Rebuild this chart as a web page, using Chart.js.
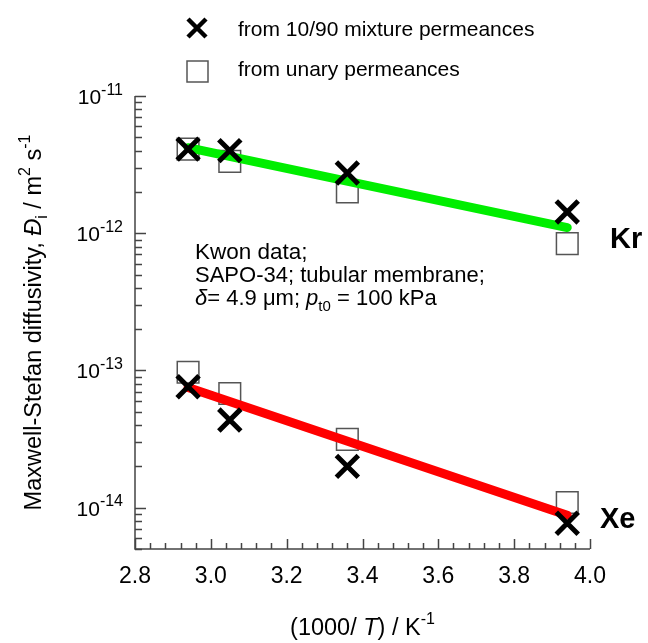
<!DOCTYPE html>
<html>
<head>
<meta charset="utf-8">
<script src="https://cdn.jsdelivr.net/npm/chart.js@4/dist/chart.umd.min.js"></script>
<style>
html, body { margin: 0; padding: 0; background: #fff; }
#wrap { width: 648px; height: 643px; }
</style>
</head>
<body>
<div id="wrap"><canvas id="diffChart" width="648" height="643"></canvas></div>
<script>
// 1000/T values of the four temperatures
const invT = [2.94, 3.05, 3.36, 3.94];
const krMixture = [4.1e-12, 4.0e-12, 2.75e-12, 1.43e-12];
const krUnary = [4.1e-12, 3.34e-12, 2.0e-12, 8.4e-13];
const xeMixture = [7.6e-14, 4.35e-14, 2.0e-14, 7.7e-15];
const xeUnary = [9.7e-14, 6.8e-14, 3.15e-14, 1.09e-14];
// fitted lines, end points only
const fitX = [2.94, 3.94];
const krFit = [4.2e-12, 1.1e-12];
const xeFit = [7.5e-14, 8.8e-15];
const xTickLabels = ['2.8', '3.0', '3.2', '3.4', '3.6', '3.8', '4.0'];
const yDecades = [-14, -13, -12, -11];

const FONT = '"Liberation Sans", Arial, sans-serif';
function font(size, italic, bold) {
    return (italic ? 'italic ' : '') + (bold ? 'bold ' : '') + size + 'px ' + FONT;
}

function pts(xs, ys) {
    return xs.map(function (x, i) { return { x: x, y: ys[i] }; });
}

// draws a run of text pieces with super/subscripts
function richText(ctx, parts, x, y, align, base) {
    base = base || 22;
    let total = 0;
    const runs = parts.map(function (p) {
        const size = (p.sup || p.sub) ? (p.small || Math.round(base * 0.68)) : (p.size || base);
        ctx.font = font(size, p.italic, p.bold);
        const w = ctx.measureText(p.t).width;
        total += w;
        return { p: p, size: size, w: w };
    });
    let cx = align === 'center' ? x - total / 2 : (align === 'right' ? x - total : x);
    runs.forEach(function (r) {
        ctx.font = font(r.size, r.p.italic, r.p.bold);
        const dy = r.p.sup ? -base * 0.45 : (r.p.sub ? base * 0.27 : 0);
        ctx.fillText(r.p.t, cx, y + dy);
        cx += r.w;
    });
}

const axesPlugin = {
    id: 'axesPlugin',
    afterDraw: function (chart) {
        const ctx = chart.ctx;
        const xs = chart.scales.x;
        const ys = chart.scales.y;
        const area = chart.chartArea;
        ctx.save();
        ctx.strokeStyle = '#444';
        ctx.lineWidth = 1.5;
        ctx.beginPath();
        ctx.moveTo(area.left, area.top);
        ctx.lineTo(area.left, area.bottom);
        ctx.lineTo(area.right, area.bottom);
        ctx.stroke();

        // y ticks, inward
        ctx.beginPath();
        for (let e = -15; e <= -11; e++) {
            for (let m = 1; m <= 9; m++) {
                const v = m * Math.pow(10, e);
                if (v < ys.min * 0.999 || v > ys.max * 1.001) continue;
                const py = Math.round(ys.getPixelForValue(v)) + 0.5;
                const len = m === 1 ? 11 : 7;
                ctx.moveTo(area.left, py);
                ctx.lineTo(area.left + len, py);
            }
        }
        // x ticks, inward
        for (let i = 0; i <= 30; i++) {
            const v = 2.8 + i * 0.04;
            const px = Math.round(xs.getPixelForValue(v)) + 0.5;
            const len = i % 5 === 0 ? 10 : 6;
            ctx.moveTo(px, area.bottom);
            ctx.lineTo(px, area.bottom - len);
        }
        ctx.stroke();

        ctx.fillStyle = '#000';
        ctx.textBaseline = 'alphabetic';
        ctx.textAlign = 'left';
        // x tick labels
        xTickLabels.forEach(function (lab) {
            const px = xs.getPixelForValue(parseFloat(lab));
            richText(ctx, [{ t: lab }], px, area.bottom + 34, 'center', 23);
        });
        // y tick labels
        yDecades.forEach(function (e) {
            const py = ys.getPixelForValue(Math.pow(10, e));
            richText(ctx, [{ t: '10' }, { t: String(e), sup: true, small: 16 }], area.left - 12, py + 8, 'right', 21);
        });

        // axis titles
        richText(ctx, [{ t: '(1000/ ' }, { t: 'T', italic: true }, { t: ') / K' }, { t: '-1', sup: true }],
            (area.left + area.right) / 2, 635, 'center', 23.5);
        ctx.save();
        ctx.translate(41, (area.top + area.bottom) / 2);
        ctx.rotate(-Math.PI / 2);
        richText(ctx, [
            { t: 'Maxwell-Stefan diffusivity, ' }, { t: '\u0110', italic: true }, { t: 'i', sub: true },
            { t: ' / m' }, { t: '2', sup: true }, { t: ' s' }, { t: '-1', sup: true }
        ], 0, 0, 'center', 23.5);
        ctx.restore();

        // annotation
        richText(ctx, [{ t: 'Kwon data;' }], 195, 259, 'left', 22.5);
        richText(ctx, [{ t: 'SAPO-34; tubular membrane;' }], 195, 282, 'left', 22);
        richText(ctx, [
            { t: '\u03B4', italic: true }, { t: '= 4.9 \u03BCm; ' }, { t: 'p', italic: true },
            { t: 't0', sub: true }, { t: ' = 100 kPa' }
        ], 195, 305, 'left', 22);

        // gas labels
        richText(ctx, [{ t: 'Kr', bold: true }], 610, 248, 'left', 29);
        richText(ctx, [{ t: 'Xe', bold: true }], 600, 528, 'left', 29);

        // legend
        ctx.strokeStyle = '#000';
        ctx.lineWidth = 4.5;
        ctx.beginPath();
        ctx.moveTo(188, 19); ctx.lineTo(206, 37);
        ctx.moveTo(206, 19); ctx.lineTo(188, 37);
        ctx.stroke();
        ctx.strokeStyle = '#555';
        ctx.lineWidth = 1.5;
        ctx.strokeRect(187, 61, 21, 21);
        richText(ctx, [{ t: 'from 10/90 mixture permeances' }], 238, 36, 'left', 21);
        richText(ctx, [{ t: 'from unary permeances' }], 238, 76, 'left', 21);
        ctx.restore();
    }
};

document.addEventListener('DOMContentLoaded', function () {
    const canvas = document.getElementById('diffChart');
    const ctx = canvas.getContext('2d');

    const crossStyle = {
        type: 'scatter', pointStyle: 'crossRot', pointRadius: 15.5,
        pointBorderWidth: 5, borderColor: '#000', backgroundColor: '#000', order: 1
    };
    const squareStyle = {
        type: 'scatter', pointStyle: 'rect', pointRadius: 15.3,
        pointBorderWidth: 1.5, borderColor: '#555', backgroundColor: '#fff', order: 3
    };
    const fitStyle = {
        type: 'line', pointRadius: 0, borderWidth: 9, borderCapStyle: 'round', fill: false, order: 2
    };

    canvas.chart = new Chart(ctx, {
        type: 'scatter',
        data: {
            datasets: [
                Object.assign({ label: 'Kr unary', data: pts(invT, krUnary) }, squareStyle),
                Object.assign({ label: 'Xe unary', data: pts(invT, xeUnary) }, squareStyle),
                Object.assign({ label: 'Kr fit', data: pts(fitX, krFit), borderColor: '#00ee00' }, fitStyle),
                Object.assign({ label: 'Xe fit', data: pts(fitX, xeFit), borderColor: '#ff0000' }, fitStyle),
                Object.assign({ label: 'Kr mixture', data: pts(invT, krMixture) }, crossStyle),
                Object.assign({ label: 'Xe mixture', data: pts(invT, xeMixture) }, crossStyle)
            ]
        },
        options: {
            responsive: false,
            animation: false,
            devicePixelRatio: 1,
            layout: { padding: { left: 135, right: 58, top: 96, bottom: 94 } },
            scales: {
                x: { type: 'linear', min: 2.8, max: 4.0, display: false },
                y: { type: 'logarithmic', min: 5e-15, max: 1e-11, display: false }
            },
            plugins: {
                legend: { display: false },
                tooltip: { enabled: false }
            }
        },
        plugins: [axesPlugin]
    });
});
</script>
</body>
</html>
